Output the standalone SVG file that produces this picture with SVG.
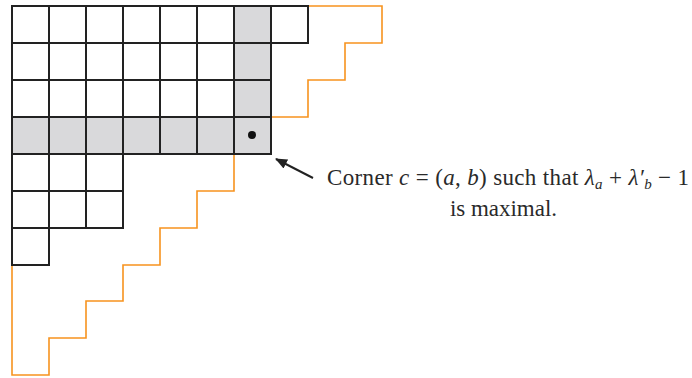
<svg xmlns="http://www.w3.org/2000/svg" width="692" height="378" viewBox="0 0 692 378">
<style>
.cell{fill:#ffffff;stroke:#222222;stroke-width:2}
.sh{fill:#d9d9db;stroke:#222222;stroke-width:2}
.orange{fill:none;stroke:#f7931e;stroke-width:1.6}
.lbl{font-family:"Liberation Serif","DejaVu Serif",serif;font-size:23px;fill:#2a2a2a}
.it{font-style:italic}
</style>
<defs>
<marker id="ah" viewBox="0 0 12 10" refX="11" refY="5" markerWidth="12" markerHeight="10" markerUnits="userSpaceOnUse" orient="auto">
<path d="M0,0 L12,5 L0,10 Z" fill="#222222"/>
</marker>
</defs>
<g id="boundary">
<path class="orange" d="M12,265 V375 H49 V338 H86 V301 H123 V265 H160 V228 H197 V191 H234 V154 H271 V117 H308 V80 H345 V43 H382 V6 H308"/>
</g>
<g id="diagram">
<g id="row1">
<rect class="cell" x="12" y="6" width="37" height="37"/>
<rect class="cell" x="49" y="6" width="37" height="37"/>
<rect class="cell" x="86" y="6" width="37" height="37"/>
<rect class="cell" x="123" y="6" width="37" height="37"/>
<rect class="cell" x="160" y="6" width="37" height="37"/>
<rect class="cell" x="197" y="6" width="37" height="37"/>
<rect class="sh" x="234" y="6" width="37" height="37"/>
<rect class="cell" x="271" y="6" width="37" height="37"/>
</g>
<g id="row2">
<rect class="cell" x="12" y="43" width="37" height="37"/>
<rect class="cell" x="49" y="43" width="37" height="37"/>
<rect class="cell" x="86" y="43" width="37" height="37"/>
<rect class="cell" x="123" y="43" width="37" height="37"/>
<rect class="cell" x="160" y="43" width="37" height="37"/>
<rect class="cell" x="197" y="43" width="37" height="37"/>
<rect class="sh" x="234" y="43" width="37" height="37"/>
</g>
<g id="row3">
<rect class="cell" x="12" y="80" width="37" height="37"/>
<rect class="cell" x="49" y="80" width="37" height="37"/>
<rect class="cell" x="86" y="80" width="37" height="37"/>
<rect class="cell" x="123" y="80" width="37" height="37"/>
<rect class="cell" x="160" y="80" width="37" height="37"/>
<rect class="cell" x="197" y="80" width="37" height="37"/>
<rect class="sh" x="234" y="80" width="37" height="37"/>
</g>
<g id="row4">
<rect class="sh" x="12" y="117" width="37" height="37"/>
<rect class="sh" x="49" y="117" width="37" height="37"/>
<rect class="sh" x="86" y="117" width="37" height="37"/>
<rect class="sh" x="123" y="117" width="37" height="37"/>
<rect class="sh" x="160" y="117" width="37" height="37"/>
<rect class="sh" x="197" y="117" width="37" height="37"/>
<rect class="sh" x="234" y="117" width="37" height="37"/>
</g>
<g id="row5">
<rect class="cell" x="12" y="154" width="37" height="37"/>
<rect class="cell" x="49" y="154" width="37" height="37"/>
<rect class="cell" x="86" y="154" width="37" height="37"/>
</g>
<g id="row6">
<rect class="cell" x="12" y="191" width="37" height="37"/>
<rect class="cell" x="49" y="191" width="37" height="37"/>
<rect class="cell" x="86" y="191" width="37" height="37"/>
</g>
<g id="row7">
<rect class="cell" x="12" y="228" width="37" height="37"/>
</g>
</g>
<g id="corner">
<circle cx="252" cy="135" r="4" fill="#111111"/>
</g>
<g id="connectors">
<line x1="313" y1="178" x2="276" y2="159" stroke="#222222" stroke-width="2" marker-end="url(#ah)"/>
</g>
<g id="label">
<text class="lbl" x="327" y="185" textLength="362" lengthAdjust="spacing">Corner <tspan class="it">c</tspan> = (<tspan class="it">a</tspan>, <tspan class="it">b</tspan>) such that <tspan class="it">λ</tspan><tspan class="it" font-size="15" dy="4">a</tspan><tspan dy="-4"> + </tspan><tspan class="it">λ′</tspan><tspan class="it" font-size="15" dy="4">b</tspan><tspan dy="-4"> − 1</tspan></text>
<text class="lbl" x="450" y="216" textLength="107" lengthAdjust="spacing">is maximal.</text>
</g>
</svg>
